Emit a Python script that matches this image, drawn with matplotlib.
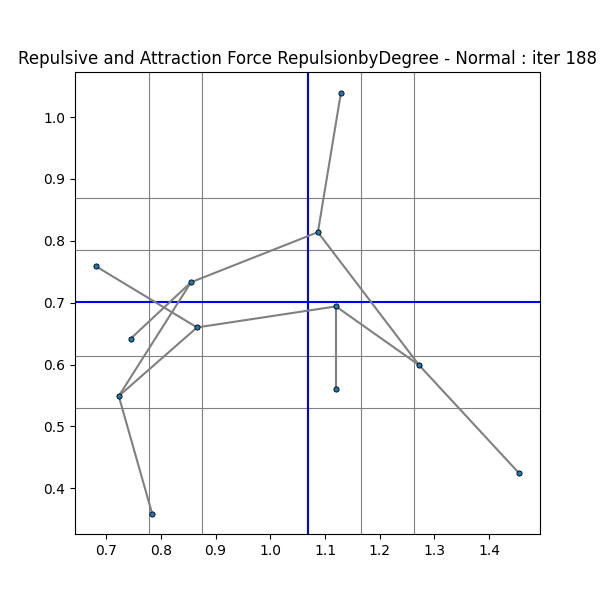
import matplotlib
matplotlib.use('Agg')
import matplotlib.pyplot as plt

node_x = [1.129, 1.087, 0.681, 0.855, 0.745, 0.866, 1.120, 1.120, 1.272, 0.723, 0.784, 1.454]
node_y = [1.039, 0.814, 0.759, 0.733, 0.642, 0.660, 0.694, 0.560, 0.599, 0.549, 0.359, 0.425]
edges = [(0, 1), (1, 3), (1, 8), (2, 5), (3, 4), (3, 9), (5, 9), (5, 6), (6, 7), (6, 8), (8, 11), (9, 10)]
grid_x = [0.779, 0.876, 1.165, 1.262]
grid_y = [0.869, 0.785, 0.613, 0.529]
center_x, center_y = 1.069, 0.701

fig, ax = plt.subplots(figsize=(6, 6), dpi=100)
for gx in grid_x:
    ax.axvline(gx, color='gray', lw=0.8)
for gy in grid_y:
    ax.axhline(gy, color='gray', lw=0.8)
ax.axvline(center_x, color='blue', lw=1.5)
ax.axhline(center_y, color='blue', lw=1.5)
for a, b in edges:
    ax.plot([node_x[a], node_x[b]], [node_y[a], node_y[b]], color='gray', lw=1.5, zorder=2)
ax.scatter(node_x, node_y, s=14, color='#1f77b4', edgecolors='black', linewidths=0.6, zorder=3)
ax.set_xlim(0.643, 1.493)
ax.set_ylim(0.326, 1.073)
ax.set_title('Repulsive and Attraction Force RepulsionbyDegree - Normal : iter 188')
plt.savefig('out.png')
